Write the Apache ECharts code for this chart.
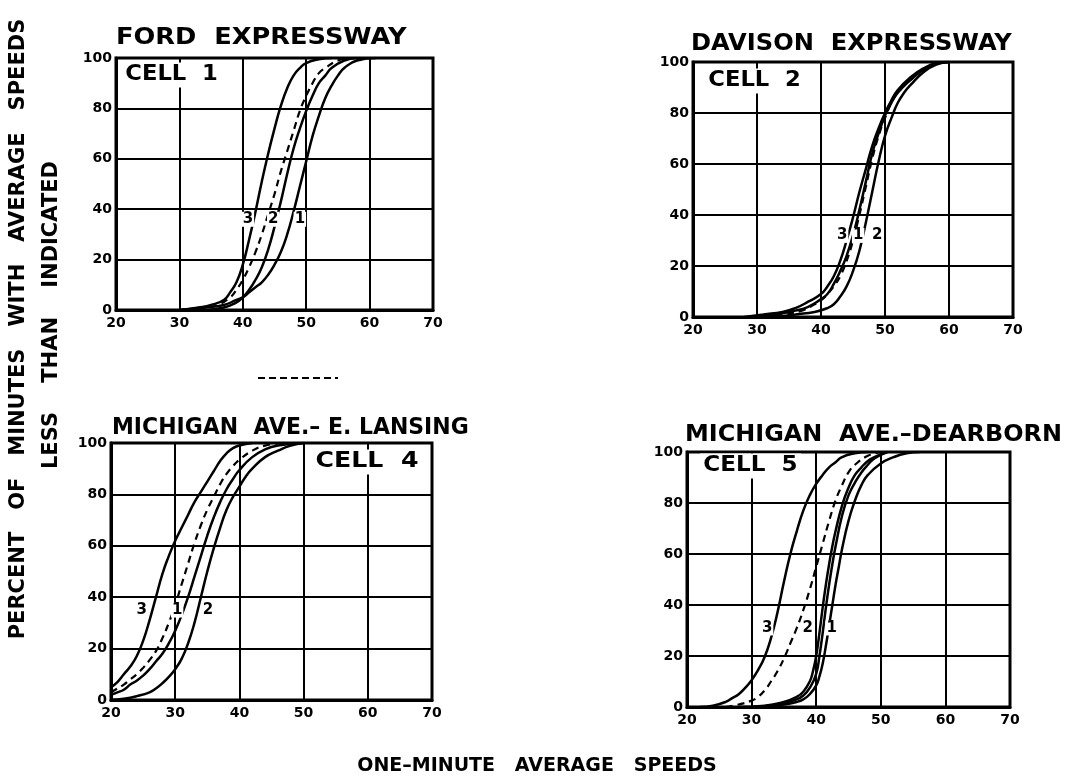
<!DOCTYPE html>
<html>
<head>
<meta charset="utf-8">
<script src="https://cdn.jsdelivr.net/npm/echarts@6/dist/echarts.min.js"></script>
<style>
html,body{margin:0;padding:0;background:#fff;}
#chart{width:1074px;height:781px;}
</style>
</head>
<body>
<div id="chart"></div>
<script>
// ---------- data ----------
const xTicks = [20, 30, 40, 50, 60, 70];
const yTicks = [0, 20, 40, 60, 80, 100];

const panelTitles = ["FORD  EXPRESSWAY", "DAVISON  EXPRESSWAY", "MICHIGAN  AVE.\u2013 E. LANSING", "MICHIGAN  AVE.\u2013DEARBORN"];
const cellNames = ["CELL  1", "CELL  2", "CELL  4", "CELL  5"];

// Cell 1 — Ford Expressway
const ford3 = [[30,0],[33,1],[35,2],[37,4],[38,7],[39,11],[40,18],[41,28],[42,39],[43,51],[44,62],[45,72],[46,81],[47,88],[48,93],[49,96],[50,98],[52,99.5],[54,100]];
const fordDashed = [[33,0],[36,2],[38,5],[39,8],[40,12],[41,17],[42,23],[43,30],[44,38],[45,46],[46,55],[47,63],[48,71],[49,79],[50,85],[51,90],[52,94],[53,96],[55,99],[57,100]];
const fordMid = [[34,0],[37,1],[39,3],[40,5],[41,8],[42,12],[43,17],[44,24],[45,33],[46,43],[47,54],[48,64],[49,72],[50,79],[51,85],[52,90],[53,93],[54,96],[56,99],[58,100]];
const ford1 = [[30,0],[34,1],[37,2],[39,4],[40,5],[41,7],[42,9],[43,11],[44,14],[45,18],[46,23],[47,30],[48,39],[49,49],[50,59],[51,69],[52,77],[53,84],[54,89],[55,93],[56,96],[58,99],[61,100]];
const fordLabels = [[40.8,36,"3"],[44.8,36,"2"],[49.0,36,"1"]];

// Cell 2 — Davison Expressway
const dav3 = [[28,0],[31,1],[34,2],[36,3.5],[38,6],[40,9],[41,12],[42,16],[43,22],[44,30],[45,39],[46,49],[47,58],[48,67],[49,74],[50,80],[51,85],[52,89],[54,94],[56,97.5],[58,99.5],[60,100]];
const davDashed = [[31,0],[34,1],[37,2.5],[39,5],[40,6.5],[41,9],[42,12],[43,16],[44,22],[45,30],[46,40],[47,51],[48,62],[49,71],[50,78],[51,84],[52,88],[54,93],[56,97],[58,99.5],[60,100]];
const davMid = [[30,0],[33,1],[36,2.5],[38,4],[40,7],[41,9],[42,13],[43,18],[44,24],[45,32],[46,42],[47,53],[48,64],[49,72],[50,79],[51,84],[52,88],[54,93],[56,97],[58,99.5],[60,100]];
const dav2 = [[33,0],[36,1],[39,2],[41,3.5],[42,5],[43,8],[44,12],[45,18],[46,26],[47,37],[48,49],[49,61],[50,71],[51,78],[52,84],[53,88],[54,91],[56,96],[58,99],[60,100]];
const davLabels = [[43.3,32,"3"],[45.8,32,"1"],[48.8,32,"2"]];

// Cell 4 — Michigan Ave. - E. Lansing
const lan3 = [[20,5],[21,7],[22,10],[23,13],[24,17],[25,23],[26,31],[27,40],[28,49],[29,56],[30,62],[31,67],[32,72],[33,77],[34,81],[35,85],[36,89],[37,93],[38,96],[39,98],[40,99],[42,100]];
const lanDashed = [[20,3],[21,4.5],[22,6],[23,8],[24,10],[25,12.5],[26,15.5],[27,19],[28,24],[29,30],[30,37],[31,45],[32,53],[33,61],[34,68],[35,74],[36,79],[37,84],[38,88],[39,91],[40,93.5],[42,97],[44,99],[47,100]];
const lan1 = [[20,2],[21,3],[22,4],[23,6],[24,7.5],[25,9.5],[26,12],[27,15],[28,18],[29,22],[30,27],[31,33],[32,40],[33,48],[34,56],[35,64],[36,71],[37,77],[38,82],[39,86],[40,89.5],[42,94.5],[44,97.5],[46,99],[50,100]];
const lan2 = [[20,0],[22,0.5],[24,1.5],[26,3],[27,4.5],[28,6.5],[29,9],[30,12],[31,16],[32,22],[33,30],[34,40],[35,50],[36,59],[37,67],[38,74],[39,79],[40,83],[41,87],[42,90],[44,94.5],[46,97],[48,99],[50,100]];
const lanLabels = [[24.8,35,"3"],[30.3,35,"1"],[35.1,35,"2"]];

// Cell 5 — Michigan Ave. - Dearborn
const dea3 = [[22,0],[24,0.5],[26,2],[27,3.5],[28,5],[29,7.5],[30,10.5],[31,14.5],[32,19.5],[33,27],[34,37],[35,49],[36,60],[37,69],[38,77],[39,83],[40,87.5],[41,91],[42,94],[43,96],[44,98],[46,99.5],[48,100]];
const deaDashed = [[26,0],[28,1],[30,2.5],[31,4],[32,6.5],[33,10],[34,14],[35,19],[36,25],[37,31],[38,38],[39,46],[40,55],[41,64],[42,73],[43,81],[44,87],[45,92],[46,95],[48,98.5],[50,100]];
const deaA = [[28,0],[32,0.5],[35,2],[37,4],[38,6],[39,10],[39.5,14],[40,20],[40.5,29],[41,39],[41.5,48],[42,56],[42.5,63],[43,69],[44,79],[45,86],[46,91],[47,94],[48,96.5],[49,98],[51,100]];
const dea1 = [[30,0],[34,1],[37,3],[38,4.5],[39,7.5],[40,13],[40.5,20],[41,29],[41.5,39],[42,48],[42.5,56],[43,63],[44,75],[45,83],[46,88],[47,92],[48,95],[49,97.5],[51,100]];
const deaB = [[31,0],[35,1],[37,2],[38,3],[39,5],[40,8.5],[40.5,12],[41,17],[41.5,24],[42,32],[42.5,40],[43,48],[43.5,55],[44,62],[45,73],[46,81],[47,87],[48,91],[50,95.5],[52,98],[54,99.5],[56,100]];
const deaLabels = [[32.4,31,"3"],[38.7,31,"2"],[42.4,31,"1"]];

// ---------- build ----------
const panels = [
  {solid:[ford3, fordMid, ford1], dashed:fordDashed, labels:fordLabels},
  {solid:[dav3, davMid, dav2], dashed:davDashed, labels:davLabels},
  {solid:[lan3, lan1, lan2], dashed:lanDashed, labels:lanLabels},
  {solid:[dea3, deaA, dea1, deaB], dashed:deaDashed, labels:deaLabels}
];

const gridBoxes = [
  {left:116, top:58, width:317, height:252},
  {left:693, top:62, width:320, height:255},
  {left:111, top:443, width:321, height:257},
  {left:687, top:452, width:323, height:255}
];

const FONT = '"DejaVu Sans", sans-serif';
const grids = [], xAxes = [], yAxes = [], series = [];

gridBoxes.forEach((g, i) => {
  grids.push(Object.assign({show:true, borderColor:'#000', borderWidth:3, backgroundColor:'#fff', containLabel:false}, g));
  xAxes.push({
    type:'value', gridIndex:i, min:xTicks[0], max:xTicks[xTicks.length-1], interval:10,
    axisLine:{show:true, lineStyle:{color:'#000', width:3}},
    axisTick:{show:false},
    splitLine:{show:true, lineStyle:{color:'#000', width:2}},
    axisLabel:{color:'#000', fontFamily:FONT, fontWeight:'bold', fontSize:14, margin:6}
  });
  yAxes.push({
    type:'value', gridIndex:i, min:yTicks[0], max:yTicks[yTicks.length-1], interval:20,
    axisLine:{show:true, lineStyle:{color:'#000', width:3}},
    axisTick:{show:false},
    splitLine:{show:true, lineStyle:{color:'#000', width:2}},
    axisLabel:{color:'#000', fontFamily:FONT, fontWeight:'bold', fontSize:14, margin:4}
  });
  const p = panels[i];
  p.solid.forEach((d) => {
    series.push({type:'line', xAxisIndex:i, yAxisIndex:i, data:d, smooth:0.5,
      showSymbol:false, symbol:'none', lineStyle:{color:'#000', width:2.5}, silent:true, z:3});
  });
  series.push({type:'line', xAxisIndex:i, yAxisIndex:i, data:p.dashed, smooth:0.5,
    showSymbol:false, symbol:'none', lineStyle:{color:'#000', width:2.2, type:[7,5]}, silent:true, z:3});
  series.push({type:'scatter', xAxisIndex:i, yAxisIndex:i, symbolSize:1,
    itemStyle:{color:'rgba(255,255,255,0)', opacity:1},
    data:p.labels.map(l => ({value:[l[0], l[1]], name:l[2]})),
    label:{show:true, position:'inside', formatter:'{b}', color:'#000', opacity:1, fontFamily:FONT, fontWeight:'bold', fontSize:15,
      backgroundColor:'#fff', padding:[0,1]}, z:5, silent:true});
});

const titleStyle = {fill:'#000', fontFamily:FONT, fontWeight:'bold', fontSize:23, textAlign:'left', textVerticalAlign:'middle'};
const cellStyle = {fill:'#000', fontFamily:FONT, fontWeight:'bold', fontSize:21, textAlign:'left', textVerticalAlign:'middle', backgroundColor:'#fff', padding:[2,3]};
const T = (text, x, y, sx, st, z) => ({type:'text', x:x, y:y, scaleX:sx, z:z||1, style:Object.assign({text:text}, st)});

const graphic = [
  T(panelTitles[0], 116, 38, 1.115, titleStyle),
  T(panelTitles[1], 691, 44, 1.05, titleStyle),
  T(panelTitles[2], 112, 428, 0.955, titleStyle),
  T(panelTitles[3], 685, 435, 1.04, titleStyle),
  T(cellNames[0], 122, 75, 1.08, cellStyle, 10),
  T(cellNames[1], 705, 81, 1.08, cellStyle, 10),
  T(cellNames[2], 312, 462, 1.2, cellStyle, 10),
  T(cellNames[3], 700, 466, 1.1, cellStyle, 10),
  {type:'text', x:19, y:329, rotation:Math.PI/2, style:{text:'PERCENT   OF   MINUTES   WITH   AVERAGE   SPEEDS', fill:'#000', fontFamily:FONT, fontWeight:'bold', fontSize:21, textAlign:'center', textVerticalAlign:'middle'}},
  {type:'text', x:52, y:315, rotation:Math.PI/2, style:{text:'LESS    THAN    INDICATED', fill:'#000', fontFamily:FONT, fontWeight:'bold', fontSize:21, textAlign:'center', textVerticalAlign:'middle'}},
  {type:'text', x:537, y:766, style:{text:'ONE\u2013MINUTE   AVERAGE   SPEEDS', fill:'#000', fontFamily:FONT, fontWeight:'bold', fontSize:19, textAlign:'center', textVerticalAlign:'middle'}},
  {type:'line', shape:{x1:258, y1:378, x2:338, y2:378}, style:{stroke:'#000', lineWidth:2, lineDash:[7,4]}}
];

const chart = echarts.init(document.getElementById('chart'), null, {renderer:'canvas'});
chart.setOption({
  backgroundColor:'#fff',
  animation:false,
  grid:grids, xAxis:xAxes, yAxis:yAxes, series:series, graphic:graphic
});
</script>
</body>
</html>
